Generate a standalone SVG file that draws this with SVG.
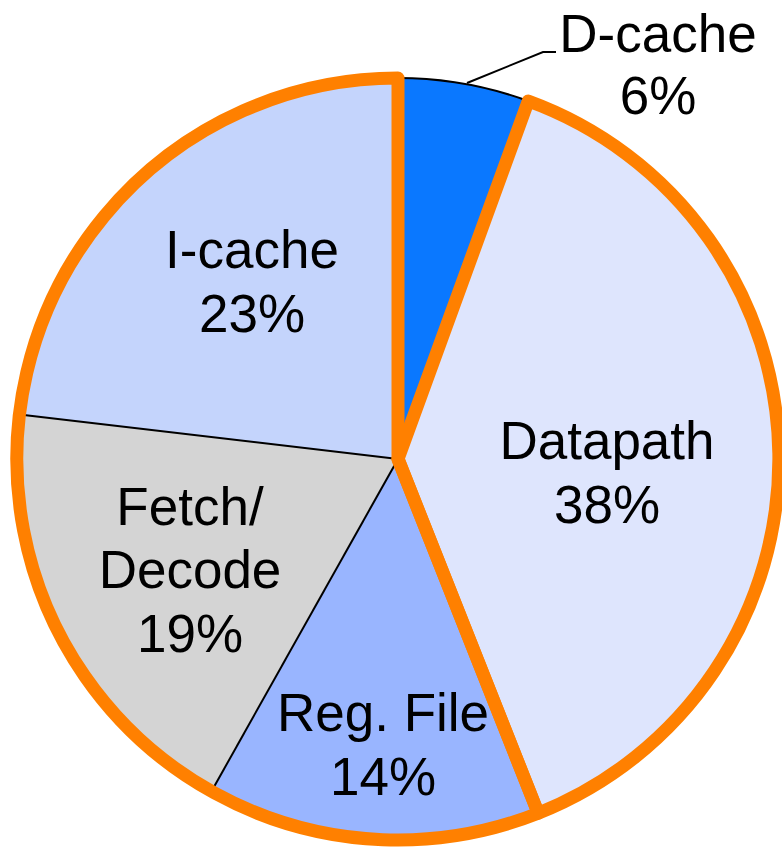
<svg xmlns="http://www.w3.org/2000/svg" width="782" height="851" viewBox="0 0 782 851">
<style>
.t{font-family:"Liberation Sans",Arial,sans-serif;font-size:53px;fill:#000;text-anchor:middle}
.div{stroke:#000;stroke-width:2;fill:none}
.hi{fill:none;stroke:#FF8000;stroke-width:13;stroke-linejoin:round}
</style>
<rect width="782" height="851" fill="#fff"/>
<g id="slices">
<g id="dcache"><path d="M398,459 L398,78 A381,381 0 0 1 528.3,101 Z" fill="#0A78FF"/><path d="M398,78 A381,381 0 0 1 528.3,101" class="div"/></g>
<g id="datapath"><path d="M398,459 L528.3,101 A381,381 0 0 1 538.2,813.2 Z" fill="#DEE5FD"/></g>
<g id="regfile"><path d="M398,459 L538.2,813.2 A381,381 0 0 1 211.5,791.3 Z" fill="#99B5FF"/></g>
<g id="fetch"><path d="M398,459 L211.5,791.3 A381,381 0 0 1 19.6,414.5 Z" fill="#D4D4D4"/></g>
<g id="icache"><path d="M398,459 L19.6,414.5 A381,381 0 0 1 398,78 Z" fill="#C4D4FC"/></g>
</g>
<g id="connectors">
<line x1="398" y1="459" x2="211.5" y2="791.3" class="div"/>
<line x1="398" y1="459" x2="19.6" y2="414.5" class="div"/>
<polyline points="467,83 543,52 556,52" class="div"/>
<path d="M398,459 L528.3,101 A381,381 0 0 1 538.2,813.2 Z" class="hi"/>
<path d="M398,459 L538.2,813.2 A381,381 0 1 1 398,78 Z" class="hi"/>
</g>
<g id="labels">
<text class="t" x="658" y="52">D-cache</text>
<text class="t" x="658" y="114">6%</text>
<text class="t" x="252" y="268">I-cache</text>
<text class="t" x="252" y="332">23%</text>
<text class="t" x="607" y="459">Datapath</text>
<text class="t" x="607" y="523">38%</text>
<text class="t" x="190" y="525">Fetch/</text>
<text class="t" x="190" y="588">Decode</text>
<text class="t" x="190" y="652">19%</text>
<text class="t" x="383" y="731">Reg. File</text>
<text class="t" x="383" y="795">14%</text>
</g>
</svg>
